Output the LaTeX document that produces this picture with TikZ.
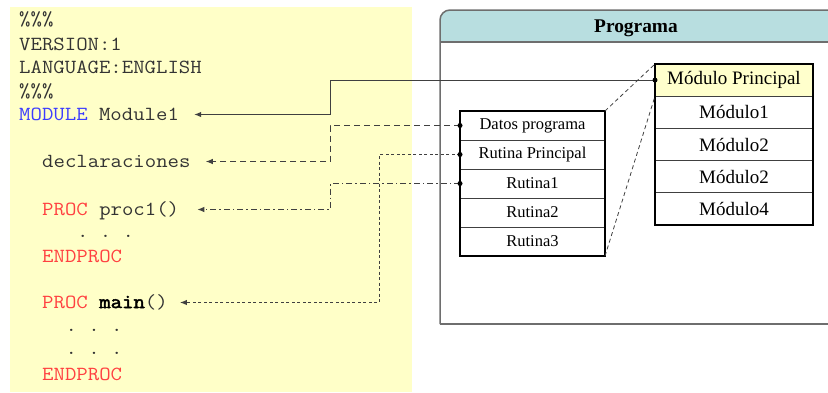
\documentclass[tikz,border=0pt]{standalone}
\usepackage{fontspec}
\setmainfont{Liberation Serif}
\setmonofont[FakeStretch=1.108, BoldFont={*}, BoldFeatures={FakeBold=2.5}]{Latin Modern Mono}
\usetikzlibrary{arrows.meta,positioning}

\definecolor{fondocodigo}{RGB}{255,255,200}
\definecolor{cabecera}{RGB}{184,222,224}
\definecolor{principal}{RGB}{255,255,204}
\definecolor{clave}{RGB}{60,60,255}
\definecolor{rojoproc}{RGB}{255,64,64}
\definecolor{texto}{RGB}{51,51,51}
\definecolor{linea}{RGB}{64,64,64}
\definecolor{marcogris}{RGB}{110,110,110}

\tikzset{
  codigo/.style={anchor=base west, inner sep=0pt, text height=11pt, text depth=0pt,
    font=\fontsize{20}{22}\ttfamily, text=texto},
  rutina/.style={draw=linea, line width=0.8pt, minimum width=145pt, minimum height=29pt,
    inner sep=0pt, outer sep=0pt, font=\fontsize{16.5}{18}\selectfont},
  modulo/.style={draw=linea, line width=0.8pt, minimum width=158pt, minimum height=32.2pt,
    inner sep=0pt, outer sep=0pt, font=\fontsize{19}{21}\selectfont},
  titulo/.style={font=\fontsize{19.4}{22}\bfseries},
  borde/.style={line width=2.2pt, black},
  marco/.style={line width=1.5pt, marcogris},
  enlace/.style={->, line width=1pt, linea, shorten >=15pt},
  ampliacion/.style={line width=0.8pt, linea, dash pattern=on 4pt off 3pt}
}

\begin{document}
\begin{tikzpicture}[x=1pt, y=-1pt, >={Latex[length=7pt,width=5.5pt]}]
        \useasboundingbox (0,0) rectangle (828,392);
        \clip (0,0) rectangle (828,392);

        % Fondo del codigo
        \fill[fondocodigo] (10,7) rectangle (412,392);

        % Lineas del codigo
        \node[codigo] (c1) at (19,25) {\%\%\%};
        \node[codigo] (c2) at (19,50) {VERSION:1};
        \node[codigo] (c3) at (19,73) {LANGUAGE:ENGLISH};
        \node[codigo] (c4) at (19,97) {\%\%\%};
        \node[codigo] (mod) at (19,120) {\textcolor{clave}{MODULE} Module1};
        \node[codigo] (decl) at (42,167) {declaraciones};
        \node[codigo] (proc) at (42,215) {\textcolor{rojoproc}{PROC} proc1()};
        \node[codigo] (p1) at (76.9,237) {. . .};
        \node[codigo] (fin1) at (42,262) {\textcolor{rojoproc}{ENDPROC}};
        \node[codigo] (main) at (42,308) {\textcolor{rojoproc}{PROC} {\bfseries\color{black}main}()};
        \node[codigo] (m1) at (65.3,331) {. . .};
        \node[codigo] (m2) at (65.3,354) {. . .};
        \node[codigo] (fin2) at (42,380) {\textcolor{rojoproc}{ENDPROC}};

        % Marco del programa
        \fill[cabecera] (440,42) [rounded corners=10pt] -- (440,10) -- (840,10) [sharp corners] -- (840,42) -- cycle;
        \draw[marco] (440,324) -- (440,42) [rounded corners=10pt] -- (440,10) -- (840,10);
        \draw[marco] (440,42) -- (840,42);
        \draw[marco] (440,324) -- (840,324);
        \node[titulo] (prog) at (636,28) {Programa};

        % Tabla de rutinas
        \node[rutina] (r1) at (532.5,125.5) {Datos programa};
        \node[rutina, below=0pt of r1] (r2) {Rutina Principal};
        \node[rutina, below=0pt of r2] (r3) {Rutina1};
        \node[rutina, below=0pt of r3] (r4) {Rutina2};
        \node[rutina, below=0pt of r4] (r5) {Rutina3};
        \draw[borde] (r1.north west) rectangle (r5.south east);

        % Tabla de modulos
        \node[modulo, fill=principal] (mp) at (734,80.1) {Módulo Principal};
        \node[modulo, below=0pt of mp] (mo1) {Módulo1};
        \node[modulo, below=0pt of mo1] (mo2) {Módulo2};
        \node[modulo, below=0pt of mo2] (mo3) {Módulo2};
        \node[modulo, below=0pt of mo3] (mo4) {Módulo4};
        \draw[borde] (mp.north west) rectangle (mo4.south east);

        % Lineas de ampliacion
        \draw[ampliacion] (r1.north east) -- (mp.north west);
        \draw[ampliacion] (r5.south east) -- (mp.south west);

        % Enlaces hacia el codigo
        \coordinate (bx) at (330,0);
        \coordinate (bm) at (379,0);
        \draw[enlace] (mp.west) -- (mp.west -| bx) |- (mod.east);
        \draw[enlace, dash pattern=on 6pt off 4pt] (r1.west) -- (r1.west -| bx) |- (decl.east);
        \draw[enlace, dash pattern=on 3pt off 2.5pt, shorten >=12pt] (r2.west) -- (r2.west -| bm) |- (main.east);
        \draw[enlace, dash pattern=on 6pt off 3pt on 1.5pt off 3pt, shorten >=18pt] (r3.west) -- (r3.west -| bx) |- (proc.east);

        % Puntos de salida
        \fill (mp.west) circle (2.5pt);
        \fill (r1.west) circle (2.5pt);
        \fill (r2.west) circle (2.5pt);
        \fill (r3.west) circle (2.5pt);

    \end{tikzpicture}
\end{document}
